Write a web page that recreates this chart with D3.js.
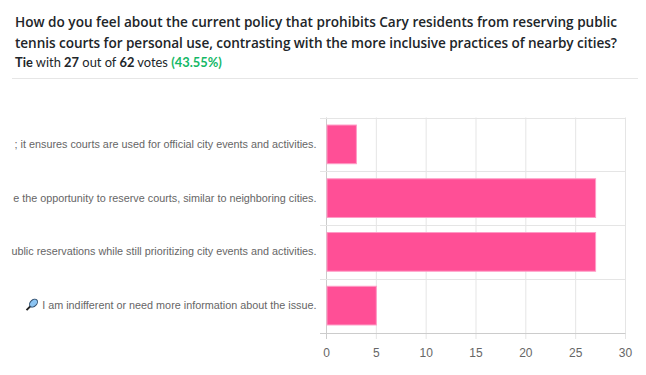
<!DOCTYPE html>
<html>
<head>
<meta charset="utf-8">
<script src="https://cdn.jsdelivr.net/npm/d3@7"></script>
<style>
  body { margin: 0; background: #fff; overflow: hidden; }
  svg { display: block; }
  .title { font-family: "Open Sans", sans-serif; font-size: 13.6px; font-weight: 600; fill: #212529; }
  .sub { font-family: "Lato", sans-serif; font-size: 14px; fill: #212529; }
  .tick-label { font-family: "Liberation Sans", Arial, sans-serif; font-size: 11.5px; fill: #666; }
  .axis-label { font-family: "Liberation Sans", Arial, sans-serif; font-size: 12px; fill: #666; }
</style>
</head>
<body>
<svg id="chart" width="646" height="375"></svg>
<script>
var width = 646, height = 375;

var categories = [
    "; it ensures courts are used for official city events and activities.",
    "e the opportunity to reserve courts, similar to neighboring cities.",
    "ublic reservations while still prioritizing city events and activities.",
    "I am indifferent or need more information about the issue."
];
var votes = [3, 27, 27, 5];
var xTicks = [0, 5, 10, 15, 20, 25, 30];
var titleLines = [
    "How do you feel about the current policy that prohibits Cary residents from reserving public",
    "tennis courts for personal use, contrasting with the more inclusive practices of nearby cities?"
];
var subParts = [
    { t: "Tie", b: true }, { t: " with " }, { t: "27", b: true }, { t: " out of " },
    { t: "62", b: true }, { t: " votes " }, { t: "(43.55%)", b: true, c: "#14b866" }
];

var svg = d3.select("#chart");

var x = d3.scaleLinear().domain([0, 30]).range([326.5, 625.5]);
var y = d3.scaleBand().domain(categories).range([117.5, 332.5]).paddingInner(0.28).paddingOuter(0.14);
var band = d3.scaleBand().domain(categories).range([117.5, 332.5]);

// header
svg.selectAll(".title").data(titleLines).enter().append("text")
    .attr("class", "title")
    .attr("x", 15)
    .attr("y", (d, i) => 27 + i * 21)
    .attr("textLength", 602)
    .text(d => d);

svg.append("text").attr("class", "sub")
    .attr("transform", "translate(15, 67) scale(0.92, 1)")
    .selectAll("tspan").data(subParts).enter().append("tspan")
    .style("font-weight", d => d.b ? 700 : 400)
    .style("fill", d => d.c || null)
    .text(d => d.t);

svg.append("line").attr("x1", 12).attr("x2", 638).attr("y1", 78.5).attr("y2", 78.5)
    .attr("stroke", "#e6e6e6");

// grid
svg.selectAll(".gx").data(xTicks).enter().append("line")
    .attr("x1", d => x(d)).attr("x2", d => x(d))
    .attr("y1", 117.5).attr("y2", 339)
    .attr("stroke", d => d === 0 ? "#ccc" : "#e5e5e5");

var yLines = categories.map(c => band(c)).concat([band.range()[1]]);
svg.selectAll(".gy").data(yLines).enter().append("line")
    .attr("x1", 320).attr("x2", 625.5)
    .attr("y1", d => Math.round(d) + 0.5).attr("y2", d => Math.round(d) + 0.5)
    .attr("stroke", (d, i) => i === categories.length ? "#ccc" : "#e5e5e5");

// bars
svg.selectAll(".bar").data(categories).enter().append("rect")
    .attr("class", "bar")
    .attr("x", x(0) + 0.5)
    .attr("y", d => y(d))
    .attr("width", (d, i) => x(votes[i]) - x(0) - 0.5)
    .attr("height", y.bandwidth())
    .attr("fill", "#ff4f96")
    .attr("stroke", "#ff9cc6")
    .attr("stroke-width", 1);

// tick labels, squeezed a little to match the hinted Arial widths
svg.append("g")
    .selectAll("text").data(categories).enter().append("text")
    .attr("class", "tick-label")
    .attr("transform", d => "translate(316.5, " + (band(d) + band.bandwidth() / 2 + 3.5) + ") scale(0.94, 1)")
    .attr("text-anchor", "end")
    .text(d => d);

svg.selectAll(".xl").data(xTicks).enter().append("text")
    .attr("class", "axis-label")
    .attr("x", d => x(d))
    .attr("y", 357)
    .attr("text-anchor", "middle")
    .text(d => d);

// racket icon in front of the last label
var icon = svg.append("g").attr("transform", "translate(32, " + (band(categories[3]) + band.bandwidth() / 2 - 0.5) + ")");
icon.append("line").attr("x1", -5.5).attr("y1", 5).attr("x2", -1).attr("y2", 0.5)
    .attr("stroke", "#222").attr("stroke-width", 2);
icon.append("ellipse").attr("cx", 1.5).attr("cy", -2).attr("rx", 4.6).attr("ry", 3.2)
    .attr("transform", "rotate(-45 1.5 -2)")
    .attr("fill", "#8cc4f2").attr("stroke", "#33506e").attr("stroke-width", 1);
</script>
</body>
</html>
